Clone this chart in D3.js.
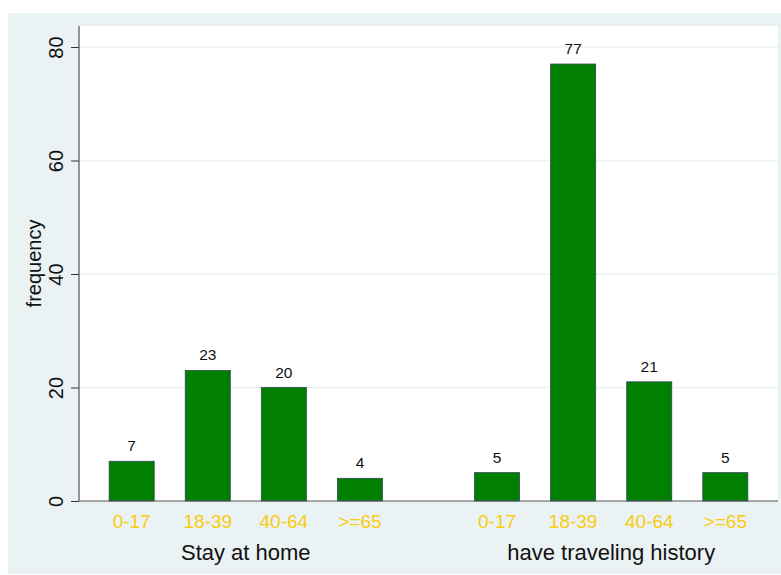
<!DOCTYPE html>
<html>
<head>
<meta charset="utf-8">
<script src="https://cdn.jsdelivr.net/npm/d3@7"></script>
<style>
  body { margin: 0; background: #fff; }
  text { font-family: Arial, "Liberation Sans", sans-serif; }
</style>
</head>
<body>
<div id="chart"></div>
<script>
// données
var groups = ["Stay at home", "have traveling history"];
var ages = ["0-17", "18-39", "40-64", ">=65"];
var stayHome = [7, 23, 20, 4];
var traveled = [5, 77, 21, 5];
var yTicks = [0, 20, 40, 60, 80];

var donnees = [];
[stayHome, traveled].forEach(function(serie, g) {
    serie.forEach(function(v, i) {
        donnees.push({ group: groups[g], age: ages[i], value: v });
    });
});

// dimensions
var totalWidth = 781, totalHeight = 575,
    margin = {top: 26, right: 3, bottom: 74, left: 79},
    width = totalWidth - margin.left - margin.right,
    height = totalHeight - margin.top - margin.bottom;

var svg = d3.select("#chart").append("svg")
    .attr("width", totalWidth)
    .attr("height", totalHeight);

// fond extérieur
svg.append("rect")
    .attr("x", 8).attr("y", 13)
    .attr("width", totalWidth - 8).attr("height", totalHeight - 14)
    .attr("fill", "#eaf2f3");

var g = svg.append("g")
    .attr("transform", "translate(" + margin.left + "," + margin.top + ")");

g.append("rect")
    .attr("width", width).attr("height", height)
    .attr("fill", "#ffffff");

// échelles
var x0 = d3.scaleBand().domain(groups).range([0, width])
        .paddingInner(0.167).paddingOuter(0.04),
    x1 = d3.scaleBand().domain(ages).range([0, x0.bandwidth()])
        .paddingInner(0.408).paddingOuter(0.204),
    y = d3.scaleLinear().domain([0, 80]).range([height, 21]);

// grille
g.selectAll(".grid")
    .data(yTicks.filter(function(d) { return d > 0; }))
    .enter().append("line")
    .attr("x1", 0).attr("x2", width)
    .attr("y1", function(d) { return y(d); })
    .attr("y2", function(d) { return y(d); })
    .attr("stroke", "#eaf2f3")
    .attr("stroke-width", 1.5);

// barres
g.selectAll(".bar")
    .data(donnees)
    .enter().append("rect")
    .attr("x", function(d) { return x0(d.group) + x1(d.age); })
    .attr("y", function(d) { return y(d.value); })
    .attr("width", x1.bandwidth())
    .attr("height", function(d) { return y(0) - y(d.value); })
    .attr("fill", "#007f00")
    .attr("stroke", "#2c4a5a")
    .attr("stroke-width", 0.8);

// étiquettes des valeurs
g.selectAll(".lab")
    .data(donnees)
    .enter().append("text")
    .attr("x", function(d) { return x0(d.group) + x1(d.age) + x1.bandwidth() / 2; })
    .attr("y", function(d) { return y(d.value) - 10; })
    .attr("text-anchor", "middle")
    .attr("font-size", 15.5)
    .attr("fill", "#111")
    .text(function(d) { return d.value; });

// axe Y
var yAxis = g.append("g")
    .call(d3.axisLeft(y).tickValues(yTicks).tickSize(8).tickPadding(0));
yAxis.select(".domain").attr("d", "M0," + height + "V0").attr("stroke", "#333");
yAxis.selectAll(".tick line").attr("stroke", "#333");
yAxis.selectAll(".tick text")
    .attr("transform", "rotate(-90)")
    .attr("x", 0).attr("y", -16)
    .attr("dy", 0)
    .attr("text-anchor", "middle")
    .attr("font-size", 20)
    .attr("font-family", "Arial, 'Liberation Sans', sans-serif")
    .attr("fill", "#111");

// ligne du bas
g.append("line")
    .attr("x1", 0).attr("x2", width)
    .attr("y1", height).attr("y2", height)
    .attr("stroke", "#555").attr("stroke-width", 1);

// libellés des catégories
g.selectAll(".cat")
    .data(donnees)
    .enter().append("text")
    .attr("x", function(d) { return x0(d.group) + x1(d.age) + x1.bandwidth() / 2; })
    .attr("y", height + 27)
    .attr("text-anchor", "middle")
    .attr("font-size", 19)
    .attr("fill", "#f8cc10")
    .text(function(d) { return d.age; });

// titres des groupes
g.selectAll(".grp")
    .data(groups)
    .enter().append("text")
    .attr("x", function(d) { return x0(d) + x0.bandwidth() / 2; })
    .attr("y", height + 59)
    .attr("text-anchor", "middle")
    .attr("font-size", 22)
    .attr("fill", "#111")
    .text(function(d) { return d; });

// titre axe Y
svg.append("text")
    .attr("transform", "translate(41," + (margin.top + height / 2) + ") rotate(-90)")
    .attr("text-anchor", "middle")
    .attr("font-size", 20)
    .attr("fill", "#111")
    .text("frequency");
</script>
</body>
</html>
